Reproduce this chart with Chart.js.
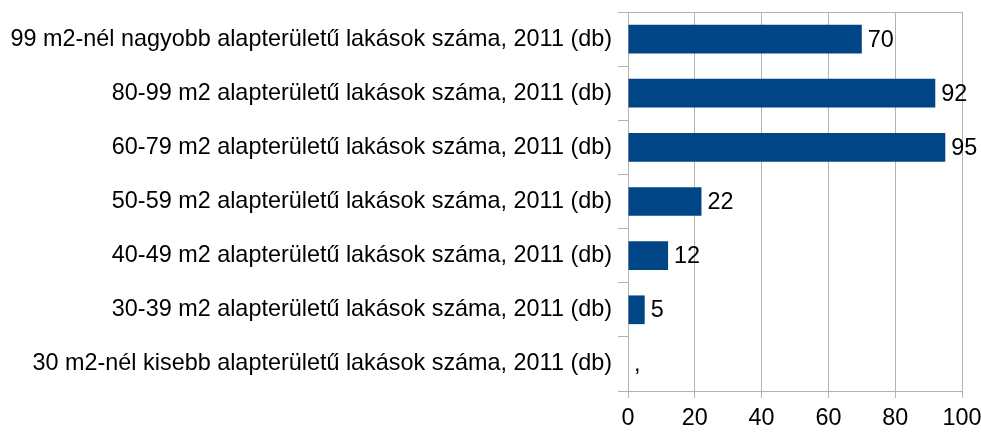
<!DOCTYPE html>
<html>
<head>
<meta charset="utf-8">
<title>Lakások alapterület szerint, 2011</title>
<script src="https://cdn.jsdelivr.net/npm/chart.js@4"></script>
<style>
  html, body { margin: 0; padding: 0; background: #fff; }
  #wrap { width: 981px; height: 432px; }
</style>
</head>
<body>
<div id="wrap"><canvas id="chart" width="981" height="432"></canvas></div>
<script>
// categories, top to bottom
const categories = [
  "99 m2-nél nagyobb alapterületű lakások száma, 2011 (db)",
  "80-99 m2 alapterületű lakások száma, 2011 (db)",
  "60-79 m2 alapterületű lakások száma, 2011 (db)",
  "50-59 m2 alapterületű lakások száma, 2011 (db)",
  "40-49 m2 alapterületű lakások száma, 2011 (db)",
  "30-39 m2 alapterületű lakások száma, 2011 (db)",
  "30 m2-nél kisebb alapterületű lakások száma, 2011 (db)"
];
// dwelling counts; the smallest group has no figure
const counts = [70, 92, 95, 22, 12, 5, null];
const xTicks = [0, 20, 40, 60, 80, 100];

const gridColor = "#b3b3b3";
const font = { family: "'Liberation Sans', Arial, sans-serif", size: 23.4 };

// value labels to the right of each bar
const valueLabels = {
  id: "valueLabels",
  afterDatasetsDraw(chart) {
    const { ctx, scales: { x, y } } = chart;
    ctx.save();
    ctx.font = `${font.size}px ${font.family}`;
    ctx.fillStyle = "#000";
    ctx.textBaseline = "middle";
    ctx.textAlign = "left";
    counts.forEach((v, i) => {
      const px = x.getPixelForValue(v === null ? 0 : v) + 6;
      const py = y.getPixelForValue(i) + 1;
      ctx.fillText(v === null ? "," : String(v), px, py);
    });
    ctx.restore();
  }
};

new Chart(document.getElementById("chart"), {
  type: "bar",
  data: {
    labels: categories,
    datasets: [{
      data: counts,
      backgroundColor: "#004586",
      borderWidth: 0,
      categoryPercentage: 1,
      barPercentage: 0.53
    }]
  },
  options: {
    indexAxis: "y",
    responsive: false,
    animation: false,
    layout: { padding: { top: 12, right: 19, left: 0, bottom: 0 } },
    plugins: { legend: { display: false }, tooltip: { enabled: false } },
    scales: {
      x: {
        min: 0,
        max: 100,
        afterBuildTicks: s => { s.ticks = xTicks.map(v => ({ value: v })); },
        afterFit: s => { s.height = 41; s.paddingLeft = 0; s.paddingRight = 0; },
        border: { color: gridColor, width: 1 },
        grid: { color: gridColor, tickLength: 7, tickColor: gridColor },
        ticks: { color: "#000", font, padding: 7, maxRotation: 0 }
      },
      y: {
        afterFit: s => { s.width = 628; s.paddingTop = 0; s.paddingBottom = 0; },
        border: { color: gridColor, width: 1 },
        grid: {
          offset: true,
          tickLength: 10,
          tickColor: gridColor,
          // only the top and bottom boundary lines run across the plot
          color: c => (c.index === 0 || c.index === categories.length) ? gridColor : "transparent"
        },
        ticks: { color: "#000", font, padding: 6, autoSkip: false }
      }
    }
  },
  plugins: [valueLabels]
});
</script>
</body>
</html>
